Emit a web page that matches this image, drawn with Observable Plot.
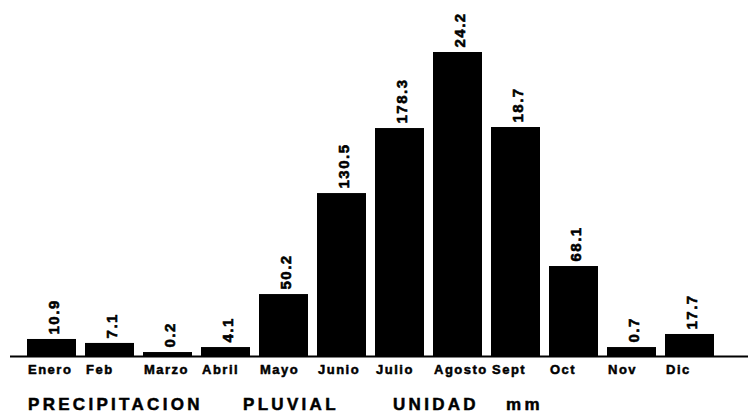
<!DOCTYPE html>
<html>
<head>
<meta charset="utf-8">
<script src="https://cdn.jsdelivr.net/npm/d3@7"></script>
<script src="https://cdn.jsdelivr.net/npm/@observablehq/plot@0.6"></script>
<style>
  html, body { margin: 0; padding: 0; background: #fff; }
  #wrap { position: relative; width: 748px; height: 416px; overflow: hidden; font-family: "Liberation Sans", Arial, sans-serif; }
  #chart svg { display: block; letter-spacing: 1.5px; }
  #title { position: absolute; left: 0; top: 385px; width: 748px; height: 31px; }
  #title span { position: absolute; top: 11px; font-size: 17px; line-height: 17px; font-weight: bold; letter-spacing: 3.3px; color: #000; -webkit-text-stroke: 0.5px #000; }
</style>
</head>
<body>
<div id="wrap">
  <div id="chart"></div>
  <div id="title">
    <span style="left:28px">PRECIPITACION</span>
    <span style="left:243px">PLUVIAL</span>
    <span style="left:393px">UNIDAD</span>
    <span style="left:506px">mm</span>
  </div>
</div>
<script>
const months = ["Enero", "Feb", "Marzo", "Abril", "Mayo", "Junio", "Julio", "Agosto", "Sept", "Oct", "Nov", "Dic"];
const values = [13.3, 10.2, 3.1, 7.0, 48.4, 127.3, 178.1, 237.5, 178.9, 70.3, 7.0, 17.2];
const labels = ["10.9", "7.1", "0.2", "4.1", "50.2", "130.5", "178.3", "24.2", "18.7", "68.1", "0.7", "17.7"];

const table = months.map((m, i) => ({month: m, value: values[i], label: labels[i]}));

const chart = Plot.plot({
  width: 748,
  height: 385,
  marginLeft: 10,
  marginRight: 0,
  marginTop: 36,
  marginBottom: 29,
  style: {background: "#fff", color: "#000", fontFamily: "'Liberation Sans', Arial, sans-serif"},
  x: {domain: months, range: [16.5, 724.8], padding: 0.15, axis: null},
  y: {domain: [0, 250], axis: null},
  marks: [
    Plot.barY(table, {x: "month", y: "value", fill: "#000"}),
    Plot.ruleY([0], {stroke: "#000", strokeWidth: 2}),
    Plot.text(table, {
      x: "month", y: "value", text: "label",
      rotate: -90, textAnchor: "start", lineAnchor: "middle",
      dy: -5, dx: 2, fontSize: 15, fontWeight: "bold", fill: "#000",
      stroke: "#000", strokeWidth: 0.6
    }),
    Plot.text(table, {
      x: "month", text: "month", frameAnchor: "bottom",
      lineAnchor: "top", textAnchor: "start", dx: -24, dy: 8,
      fontSize: 13, fontWeight: "bold", fill: "#000",
      stroke: "#000", strokeWidth: 0.5
    })
  ]
});
document.getElementById("chart").appendChild(chart);
</script>
</body>
</html>
